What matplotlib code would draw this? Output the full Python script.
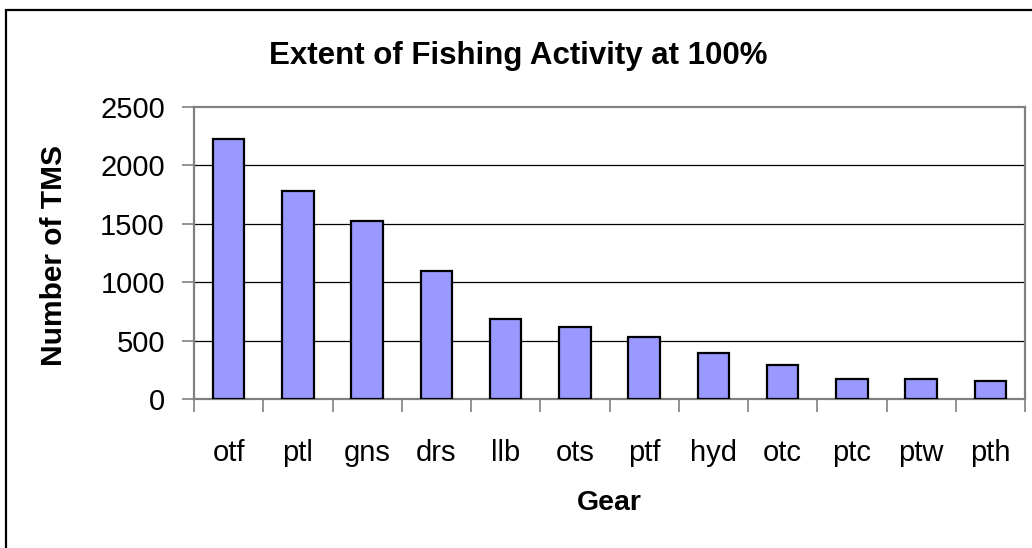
import matplotlib
matplotlib.use("Agg")
import matplotlib.pyplot as plt
from matplotlib.patches import Rectangle

categories = ["otf", "ptl", "gns", "drs", "llb", "ots", "ptf", "hyd", "otc", "ptc", "ptw", "pth"]
values = [2225, 1780, 1525, 1098, 686, 617, 531, 394, 293, 171, 171, 154]
yticks = [0, 500, 1000, 1500, 2000, 2500]

plt.rcParams['font.family'] = ['Liberation Sans', 'DejaVu Sans']

W, H = 1032, 548
fig = plt.figure(figsize=(W / 100, H / 100), dpi=100)
ax = fig.add_axes([194 / W, 1 - 399 / H, (1025 - 194) / W, (399 - 107) / H])

x = list(range(len(categories)))
ax.bar(x, values, width=0.4545, color="#9999FF", edgecolor="black", linewidth=1.6, zorder=3)

ax.set_xlim(-0.5, len(categories) - 0.5)
ax.set_ylim(0, 2500)
ax.set_yticks(yticks)
ax.set_yticklabels([str(v) for v in yticks])
for v in yticks[1:-1]:
    ax.axhline(v, color="black", linewidth=0.9, zorder=1)

ax.set_xticks([i + 0.5 for i in range(-1, len(categories))], minor=False)
ax.set_xticklabels([])
ax.set_xticks(x, minor=True)
ax.set_xticklabels(categories, minor=True)
ax.tick_params(axis="x", which="minor", length=0, pad=29, labelsize=21)
ax.tick_params(axis="x", which="major", length=9, width=1.2, color="#808080")
ax.tick_params(axis="y", length=9, width=1.2, color="#808080", pad=12, labelsize=21)

for s in ax.spines.values():
    s.set_color("#808080")
    s.set_linewidth(1.6)

fig.text(518 / W, 1 - 56 / H, "Extent of Fishing Activity at 100%", fontsize=22.5,
         fontweight="bold", ha="center", va="center")
ax.set_xlabel("Gear", fontsize=20.5, fontweight="bold", labelpad=16)
fig.text(54 / W, 1 - 255 / H, "Number of TMS", fontsize=21.5, fontweight="bold",
         rotation=90, ha="center", va="center")

fig.patches.append(Rectangle((6 / W, -0.05), 1.1, 1 - 10 / H + 0.05, transform=fig.transFigure,
                             fill=False, edgecolor="black", linewidth=1.6))

fig.savefig("out.png", dpi=100)
